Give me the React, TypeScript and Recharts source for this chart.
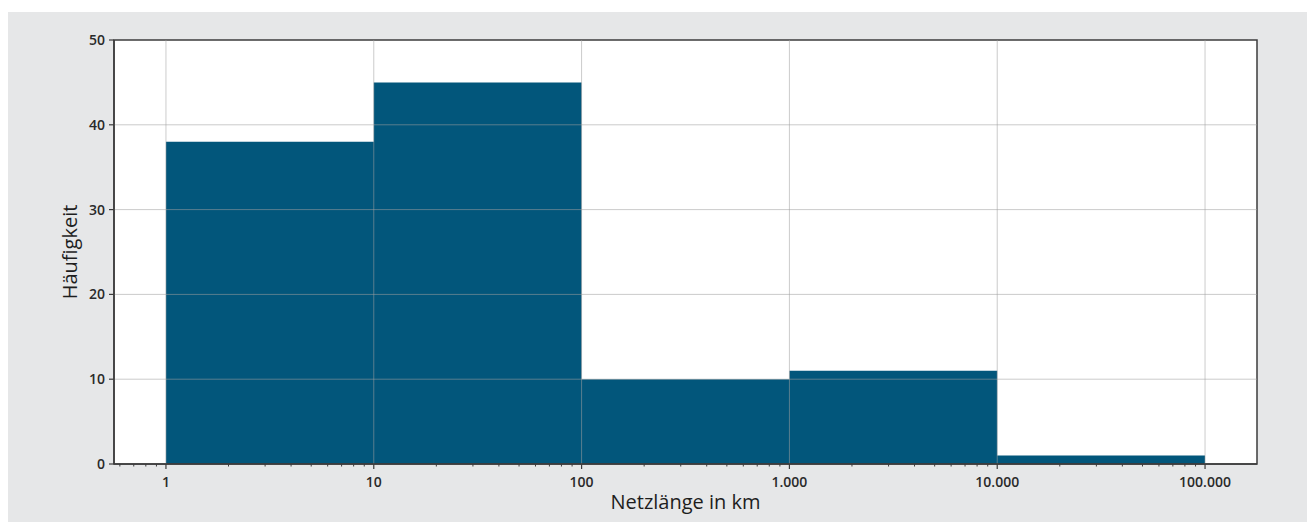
import React from 'react';
import {
  ComposedChart,
  Area,
  XAxis,
  YAxis,
  ReferenceLine,
  ReferenceArea,
  CartesianGrid,
  Label,
} from 'recharts';

// Histogram bins (log-spaced) and counts
const binEdges = [1, 10, 100, 1000, 10000, 100000];
const binCounts = [38, 45, 10, 11, 1];

// Tick definitions
const xMajorTicks = [1, 10, 100, 1000, 10000, 100000];
const xTickLabels = ['1', '10', '100', '1.000', '10.000', '100.000'];
const xMinorTicks = [
  0.6, 0.7, 0.8, 0.9,
  2, 3, 4, 5, 6, 7, 8, 9,
  20, 30, 40, 50, 60, 70, 80, 90,
  200, 300, 400, 500, 600, 700, 800, 900,
  2000, 3000, 4000, 5000, 6000, 7000, 8000, 9000,
  20000, 30000, 40000, 50000, 60000, 70000, 80000, 90000,
];
const yTicks = [0, 10, 20, 30, 40, 50];
const yGridLines = [10, 20, 30, 40];

const xAxisTitle = 'Netzlänge in km';
const yAxisTitle = 'Häufigkeit';

const data = binEdges.map((edge, i) => ({
  x: edge,
  count: binCounts[Math.min(i, binCounts.length - 1)],
}));

const X_DOMAIN: [number, number] = [Math.pow(10, -0.25), Math.pow(10, 5.25)];
const Y_DOMAIN: [number, number] = [0, 50];

const FONT = '"Open Sans", "DejaVu Sans", sans-serif';
const BAR_COLOR = '#02567b';
const FRAME = '#3c3c3c';
const TICK_SIZE = 5;
const TICK_MARGIN = 3;

const allXTicks = [...xMinorTicks, ...xMajorTicks].sort((a, b) => a - b);

const XTick = (props: any) => {
  const { x, y, payload } = props;
  const v = payload.value;
  const idx = xMajorTicks.indexOf(v);
  const axisY = y - TICK_SIZE - TICK_MARGIN;
  if (idx >= 0) {
    return (
      <g>
        <line x1={x} x2={x} y1={axisY} y2={axisY + 5} stroke={FRAME} strokeWidth={1.2} />
        <text
          x={x}
          y={axisY + 23}
          textAnchor="middle"
          fontSize={14}
          fontWeight={600}
          fontFamily={FONT}
          fill="#2a2a2a"
        >
          {xTickLabels[idx]}
        </text>
      </g>
    );
  }
  return <line x1={x} x2={x} y1={axisY} y2={axisY + 2.5} stroke={FRAME} strokeWidth={1} />;
};

export default function App() {
  return (
    <div
      style={{
        position: 'fixed',
        left: 8,
        top: 12,
        width: 1299,
        height: 510,
        background: '#e6e7e8',
      }}
    >
      <ComposedChart
        width={1299}
        height={510}
        data={data}
        margin={{ top: 28, right: 50, left: 0, bottom: 0 }}
      >
        <CartesianGrid fill="#ffffff" horizontal={false} vertical={false} />
        <XAxis
          dataKey="x"
          type="number"
          scale="log"
          domain={X_DOMAIN}
          allowDataOverflow
          ticks={allXTicks}
          interval={0}
          tick={<XTick />}
          tickLine={false}
          tickSize={TICK_SIZE}
          tickMargin={TICK_MARGIN}
          axisLine={{ stroke: FRAME, strokeWidth: 1.5 }}
          height={58}
          label={
            <Label
              content={(p: any) => {
                const vb = p.viewBox;
                return (
                  <text
                    x={vb.x + vb.width / 2}
                    y={vb.y + 45}
                    textAnchor="middle"
                    fontSize={20}
                    fontWeight={500}
                    fontFamily={FONT}
                    fill="#1e1e1e"
                  >
                    {xAxisTitle}
                  </text>
                );
              }}
            />
          }
        />
        <YAxis
          type="number"
          domain={Y_DOMAIN}
          ticks={yTicks}
          interval={0}
          width={106}
          tickSize={5}
          tickMargin={4}
          tick={{ fontSize: 14, fontWeight: 600, fontFamily: FONT, fill: '#2a2a2a' }}
          tickLine={{ stroke: FRAME, strokeWidth: 1.2 }}
          axisLine={{ stroke: FRAME, strokeWidth: 1.5 }}
          label={
            <Label
              content={(p: any) => {
                const vb = p.viewBox;
                const cx = 69;
                const cy = vb.y + vb.height / 2;
                return (
                  <text
                    x={cx}
                    y={cy}
                    transform={`rotate(-90, ${cx}, ${cy})`}
                    textAnchor="middle"
                    fontSize={20}
                    fontWeight={500}
                    fontFamily={FONT}
                    fill="#1e1e1e"
                  >
                    {yAxisTitle}
                  </text>
                );
              }}
            />
          }
        />
        <Area
          dataKey="count"
          type="stepAfter"
          fill={BAR_COLOR}
          fillOpacity={1}
          stroke="none"
          isAnimationActive={false}
          dot={false}
          activeDot={false}
        />
        {xMajorTicks.map((v) => (
          <ReferenceLine
            key={`vx-${v}`}
            x={v}
            stroke="#a0a0a0"
            strokeOpacity={0.55}
            strokeWidth={1}
          />
        ))}
        {yGridLines.map((v) => (
          <ReferenceLine
            key={`hy-${v}`}
            y={v}
            stroke="#a0a0a0"
            strokeOpacity={0.55}
            strokeWidth={1}
          />
        ))}
        <ReferenceArea
          x1={X_DOMAIN[0]}
          x2={X_DOMAIN[1]}
          y1={Y_DOMAIN[0]}
          y2={Y_DOMAIN[1]}
          fill="none"
          fillOpacity={0}
          stroke={FRAME}
          strokeWidth={1.5}
          ifOverflow="visible"
        />
      </ComposedChart>
    </div>
  );
}
